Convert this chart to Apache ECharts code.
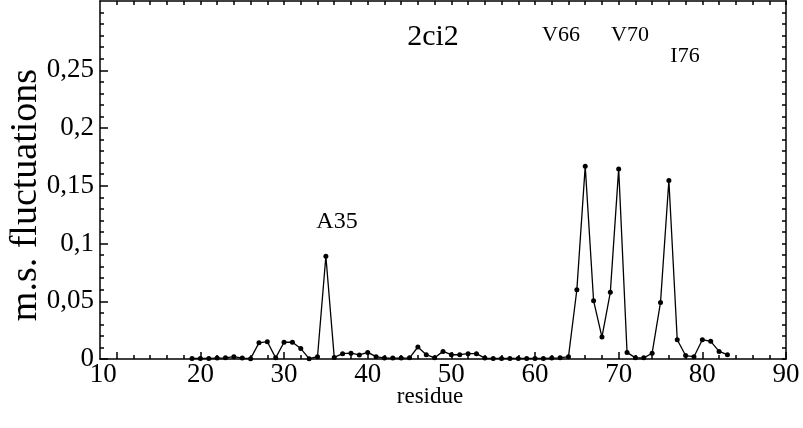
<!DOCTYPE html>
<html>
<head>
<meta charset="utf-8">
<script src="https://cdn.jsdelivr.net/npm/echarts@6/dist/echarts.min.js"></script>
<style>
html,body{margin:0;padding:0;background:#fff;}
#chart{width:803px;height:428px;}
</style>
</head>
<body>
<div id="chart"></div>
<script>
// residue numbers
var residues = [19,20,21,22,23,24,25,26,27,28,29,30,31,32,33,34,35,36,37,38,39,40,
  41,42,43,44,45,46,47,48,49,50,51,52,53,54,55,56,57,58,59,60,61,62,63,64,65,66,67,68,69,70,
  71,72,73,74,75,76,77,78,79,80,81,82,83];
// m.s. fluctuations
var fluct = [0.0005,0.0005,0.0005,0.0008,0.001,0.002,0.0008,0.0003,0.014,0.015,0.001,0.0145,0.0145,0.009,0.0003,0.002,0.089,0.0014,0.0046,0.005,0.0035,0.0057,
  0.002,0.0008,0.0008,0.0008,0.001,0.0104,0.0037,0.001,0.0066,0.0037,0.0037,0.0046,0.0046,0.0008,0.0005,0.0005,0.0005,0.0005,0.0005,0.0005,0.0005,0.0008,0.001,0.002,0.060,0.167,0.0505,0.019,0.0577,0.1646,
  0.0057,0.001,0.001,0.005,0.049,0.1545,0.0167,0.003,0.002,0.0167,0.0153,0.0066,0.0037];

var xTickValues = [10,20,30,40,50,60,70,80,90];
var xMinorTicks = [10,12,14,16,18,20,22,24,26,28,30,32,34,36,38,40,42,44,46,48,50,52,54,56,58,60,62,64,66,68,70,72,74,76,78,80,82,84,86,88,90];
var yTickValues = [0,0.05,0.1,0.15,0.2,0.25];
var yTickLabels = ['0','0,05','0,1','0,15','0,2','0,25'];
var yMinorTicks = [0,0.01,0.02,0.03,0.04,0.05,0.06,0.07,0.08,0.09,0.1,0.11,0.12,0.13,0.14,0.15,0.16,0.17,0.18,0.19,0.2,0.21,0.22,0.23,0.24,0.25,0.26,0.27,0.28,0.29,0.3];

var title = '2ci2';
var xTitle = 'residue';
var yTitle = 'm.s. fluctuations';
var annotations = ['A35','V66','V70','I76'];

var FONT = '"Liberation Serif", "DejaVu Serif", serif';
var data = residues.map(function(r,i){return [r, fluct[i]];});

function yLabel(v){
  for (var i=0;i<yTickValues.length;i++){ if (Math.abs(v-yTickValues[i])<1e-9) return yTickLabels[i]; }
  return '';
}
var lineStyle = {color:'#000', width:1.5};
var XMIN = 8, XMAX = 90, YMIN = 0, YMAX = 0.31;

var chart = echarts.init(document.getElementById('chart'), null, {renderer:'canvas'});
chart.setOption({
  animation:false,
  backgroundColor:'#fff',
  grid:{left:100, right:17, top:1, bottom:69},
  xAxis:[
    {type:'value', position:'bottom', min:XMIN, max:XMAX,
     axisLine:{show:true, onZero:false, lineStyle:lineStyle},
     axisTick:{show:true, inside:true, length:7, lineStyle:lineStyle, customValues:xTickValues},
     axisLabel:{show:true, customValues:xTickValues, alignMinLabel:'right', color:'#000', fontFamily:FONT, fontSize:27, margin:2},
     splitLine:{show:false}},
    {type:'value', position:'bottom', min:XMIN, max:XMAX,
     axisLine:{show:false, onZero:false},
     axisTick:{show:true, inside:true, length:4, lineStyle:lineStyle, customValues:xMinorTicks},
     axisLabel:{show:false}, splitLine:{show:false}},
    {type:'value', position:'top', min:XMIN, max:XMAX,
     axisLine:{show:true, onZero:false, lineStyle:lineStyle},
     axisTick:{show:true, inside:true, length:4, lineStyle:lineStyle, customValues:xMinorTicks},
     axisLabel:{show:false}, splitLine:{show:false}}
  ],
  yAxis:[
    {type:'value', position:'left', min:YMIN, max:YMAX,
     axisLine:{show:true, onZero:false, lineStyle:lineStyle},
     axisTick:{show:true, inside:true, length:8, lineStyle:lineStyle, customValues:yTickValues},
     axisLabel:{show:true, customValues:yTickValues, formatter:yLabel, color:'#000', fontFamily:FONT, fontSize:27, margin:6},
     splitLine:{show:false}},
    {type:'value', position:'left', min:YMIN, max:YMAX,
     axisLine:{show:false, onZero:false},
     axisTick:{show:true, inside:true, length:4, lineStyle:lineStyle, customValues:yMinorTicks},
     axisLabel:{show:false}, splitLine:{show:false}},
    {type:'value', position:'right', min:YMIN, max:YMAX,
     axisLine:{show:true, onZero:false, lineStyle:lineStyle},
     axisTick:{show:true, inside:true, length:4, lineStyle:lineStyle, customValues:yMinorTicks},
     axisLabel:{show:false}, splitLine:{show:false}}
  ],
  series:[{
    type:'line', xAxisIndex:0, yAxisIndex:0, data:data,
    symbol:'circle', symbolSize:5,
    lineStyle:{color:'#000', width:1.3},
    itemStyle:{color:'#000'}
  }],
  graphic:[
    {type:'text', style:{text:title, x:433, y:37, fill:'#000', font:'30px '+FONT, textAlign:'center', textVerticalAlign:'middle'}},
    {type:'text', style:{text:annotations[0], x:337, y:222, fill:'#000', font:'24px '+FONT, textAlign:'center', textVerticalAlign:'middle'}},
    {type:'text', style:{text:annotations[1], x:561, y:35, fill:'#000', font:'22px '+FONT, textAlign:'center', textVerticalAlign:'middle'}},
    {type:'text', style:{text:annotations[2], x:630, y:35, fill:'#000', font:'22px '+FONT, textAlign:'center', textVerticalAlign:'middle'}},
    {type:'text', style:{text:annotations[3], x:685, y:56, fill:'#000', font:'22px '+FONT, textAlign:'center', textVerticalAlign:'middle'}},
    {type:'text', style:{text:xTitle, x:430, y:397, fill:'#000', font:'23px '+FONT, textAlign:'center', textVerticalAlign:'middle'}},
    {type:'text', x:26, y:195, rotation:Math.PI/2,
     style:{text:yTitle, x:0, y:0, fill:'#000', font:'38px '+FONT, textAlign:'center', textVerticalAlign:'middle'}}
  ]
});
</script>
</body>
</html>
